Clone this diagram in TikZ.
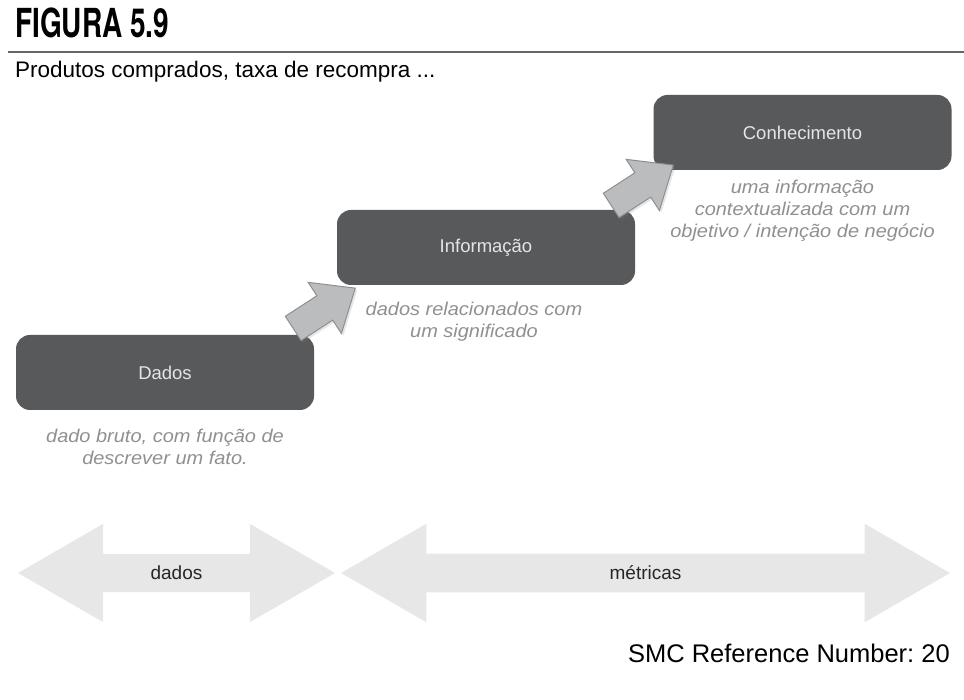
\documentclass[tikz,border=0pt]{standalone}
\usepackage{fontspec}
\setmainfont{Liberation Sans}
\newfontfamily\narrowbold[FakeStretch=0.7]{TeX Gyre Heros}
\newfontfamily\widesans[FakeStretch=1.08]{Liberation Sans}
\usetikzlibrary{shapes.arrows,positioning,shadows}

\definecolor{boxgray}{HTML}{58595B}
\definecolor{notegray}{HTML}{909090}
\definecolor{stepfill}{HTML}{BBBCBE}
\definecolor{stepline}{HTML}{8E8F91}
\definecolor{bandfill}{HTML}{E7E7E8}

\begin{document}
\begin{tikzpicture}[x=1pt,y=1pt,
    stage/.style={rectangle, rounded corners=14pt, fill=boxgray, text=white!90!black,
        minimum width=298pt, minimum height=75pt, font=\fontsize{18.5}{20}\selectfont},
    note/.style={align=center, text=notegray, node distance=6pt,
        font=\widesans\fontsize{18.5}{22}\selectfont\itshape},
    steparrow/.style={single arrow, fill=stepfill, draw=stepline, line width=1pt,
        minimum height=74pt, inner xsep=0pt, inner ysep=14pt,
        single arrow head extend=16pt, single arrow tip angle=80,
        drop shadow={opacity=0.2, shadow xshift=2pt, shadow yshift=-2pt}, rotate=33},
    band/.style={double arrow, fill=bandfill, inner xsep=0pt, inner ysep=12pt,
        double arrow head extend=30pt, double arrow tip angle=60, text=black!85,
        font=\fontsize{19}{20}\selectfont}]
    \useasboundingbox (0,0) rectangle (964,700);

    % heading
    \node[anchor=base west, inner sep=0pt] (title) at (15,662)
        {\narrowbold\bfseries\fontsize{40}{41}\selectfont FIGURA 5.9};
    \draw[black!60, line width=1.2pt] (8,648) -- (964,648);
    \node[anchor=base west, inner sep=0pt] (subtitle) at (15,622)
        {\fontsize{22.5}{24}\selectfont Produtos comprados, taxa de recompra ...};

    % the three stages
    \node[stage] (dados) at (165,327.5) {Dados};
    \node[stage] (info) at (486,452.5) {Informação};
    \node[stage] (conhec) at (802.5,567.5) {Conhecimento};

    \node[note] (dadosnote) [below=of dados, yshift=-9pt] {dado bruto, com função de\\descrever um fato.};
    \node[note] (infonote) [below=of info, xshift=-12pt, yshift=-7pt] {dados relacionados com\\um significado};
    \node[note] (conhecnote) [below=of conhec] {uma informação\\contextualizada com um\\objetivo / intenção de negócio};

    % steps between stages
    \node[steparrow] (step1) at (317,387) {};
    \node[steparrow] (step2) at (635,510) {};

    % ranges
    \node[band, minimum height=317pt] (banddados) at (176.5,127) {dados};
    \node[band, minimum height=609pt] (bandmetricas) at (645.5,127) {métricas};

    \node[anchor=base east, inner sep=0pt] (smc) at (950,37)
        {\fontsize{25.5}{27}\selectfont\frenchspacing SMC Reference Number: 20};
\end{tikzpicture}
\end{document}
